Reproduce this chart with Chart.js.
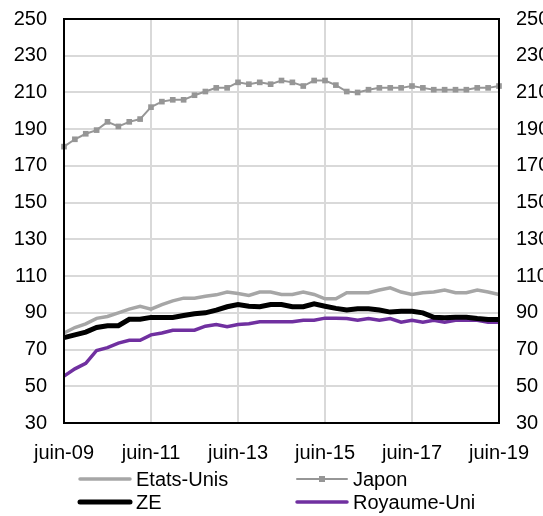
<!DOCTYPE html>
<html>
<head>
<meta charset="utf-8">
<script src="https://cdn.jsdelivr.net/npm/chart.js@4/dist/chart.umd.min.js"></script>
<style>
  html, body { margin: 0; padding: 0; overflow: hidden; background: #fff; }
  canvas { display: block; }
</style>
</head>
<body>
<canvas id="chart" width="562" height="516"></canvas>
<script>
// trimestres, juin-09 -> juin-19
let quarters = [
    "juin-09", "sept-09", "déc-09", "mars-10", "juin-10", "sept-10", "déc-10", "mars-11",
    "juin-11", "sept-11", "déc-11", "mars-12", "juin-12", "sept-12", "déc-12", "mars-13",
    "juin-13", "sept-13", "déc-13", "mars-14", "juin-14", "sept-14", "déc-14", "mars-15",
    "juin-15", "sept-15", "déc-15", "mars-16", "juin-16", "sept-16", "déc-16", "mars-17",
    "juin-17", "sept-17", "déc-17", "mars-18", "juin-18", "sept-18", "déc-18", "mars-19",
    "juin-19"
];

let etatsUnis = [79, 82, 84, 87, 88, 90, 92, 93.5, 92, 94.5, 96.5, 98, 98, 99, 99.8, 101.3,
    100.5, 99.5, 101.3, 101.3, 100, 100, 101.3, 100, 97.6, 97.6, 100.9, 100.9, 100.9, 102.4,
    103.6, 101.3, 100, 100.9, 101.3, 102.4, 100.9, 100.9, 102.4, 101.3, 100];

let japon = [180.5, 184.5, 187.5, 189.5, 194, 191.5, 194, 195.5, 202, 205, 206, 206, 208.5,
    210.5, 212.5, 212.5, 215.5, 214.5, 215.5, 214.5, 216.5, 215.5, 213.5, 216.5, 216.5, 214,
    210.5, 210, 211.5, 212.5, 212.5, 212.5, 213.5, 212.5, 211.5, 211.5, 211.5, 211.5, 212.5,
    212.5, 213.5];

let ze = [76.5, 78, 79.5, 82, 83, 83, 86.5, 86.5, 87.5, 87.5, 87.5, 88.5, 89.5, 90, 91.5,
    93.3, 94.5, 93.6, 93.3, 94.5, 94.5, 93.3, 93.3, 94.9, 93.6, 92.4, 91.5, 92.2, 92.2, 91.5,
    90.4, 90.9, 90.9, 90, 87.6, 87.3, 87.6, 87.6, 86.9, 86.4, 86.4];

let royaumeUni = [55.5, 59.5, 62.5, 69.5, 71, 73.5, 75, 75, 78, 79, 80.5, 80.5, 80.5, 82.7,
    83.6, 82.4, 83.6, 84, 85.1, 85.1, 85.1, 85.1, 86, 86, 87.1, 87.1, 86.9, 86, 86.9, 86,
    86.9, 84.9, 86, 84.9, 86, 84.9, 86, 86, 86, 84.9, 84.9];

let yMin = 30, yMax = 250, yStep = 20;

Chart.defaults.font.family = "'Liberation Sans', Arial, sans-serif";
Chart.defaults.font.size = 20;
Chart.defaults.color = "#000";

// legende dessinee a la main (2 colonnes alignees) + cadre noir
const frameAndLegend = {
    id: "frameAndLegend",
    afterDraw(chart) {
        const ctx = chart.ctx;
        const a = chart.chartArea;
        ctx.save();
        ctx.strokeStyle = "#000";
        ctx.lineWidth = 2;
        ctx.strokeRect(a.left, a.top, a.right - a.left, a.bottom - a.top);

        const slots = [[80, 479], [297, 479], [80, 502], [297, 502]];
        ctx.font = "20px 'Liberation Sans', Arial, sans-serif";
        ctx.textBaseline = "middle";
        ctx.fillStyle = "#000";
        chart.data.datasets.forEach((ds, i) => {
            const [x, y] = slots[i];
            ctx.strokeStyle = ds.borderColor;
            ctx.lineWidth = ds.borderWidth;
            ctx.lineCap = "round";
            ctx.beginPath();
            ctx.moveTo(x, y);
            ctx.lineTo(x + 50, y);
            ctx.stroke();
            if (ds.pointRadius > 0) {
                ctx.fillStyle = ds.pointBackgroundColor;
                ctx.fillRect(x + 22, y - 3, 6, 6);
                ctx.fillStyle = "#000";
            }
            ctx.fillText(ds.label, x + 56, y + 1);
        });
        ctx.restore();
    }
};

const fitAxis = s => {
    s.width = 53;
    s.paddingTop = 0;
    s.paddingBottom = 0;
};

new Chart(document.getElementById("chart"), {
    type: "line",
    data: {
        labels: quarters,
        datasets: [
            { label: "Etats-Unis", data: etatsUnis, borderColor: "#a6a6a6", borderWidth: 3.5,
              pointRadius: 0, order: 2 },
            { label: "Japon", data: japon, borderColor: "#969696", borderWidth: 2,
              pointRadius: 4, pointStyle: "rect", pointBackgroundColor: "#969696",
              pointBorderWidth: 0, order: 3 },
            { label: "ZE", data: ze, borderColor: "#000000", borderWidth: 5,
              pointRadius: 0, order: 0 },
            { label: "Royaume-Uni", data: royaumeUni, borderColor: "#7030a0", borderWidth: 3.5,
              pointRadius: 0, order: 1 }
        ]
    },
    options: {
        responsive: false,
        animation: false,
        layout: { padding: { left: 11, right: 10, top: 19, bottom: 33 } },
        plugins: { legend: { display: false }, tooltip: { enabled: false } },
        elements: { line: { tension: 0 } },
        scales: {
            x: {
                offset: false,
                grid: {
                    drawTicks: false,
                    lineWidth: 2,
                    color: c => (c.index % 8 === 0 ? "#d9d9d9" : "rgba(0,0,0,0)")
                },
                border: { color: "#000", width: 2 },
                ticks: {
                    autoSkip: false,
                    maxRotation: 0,
                    padding: 18,
                    callback: function (v, i) { return i % 8 === 0 ? quarters[i] : ""; }
                }
            },
            y: {
                position: "left",
                min: yMin, max: yMax,
                grid: { drawTicks: false, lineWidth: 2, color: "#d9d9d9" },
                border: { color: "#000", width: 2 },
                ticks: { stepSize: yStep, padding: 17 },
                afterFit: fitAxis
            },
            y2: {
                position: "right",
                min: yMin, max: yMax,
                grid: { display: false, drawTicks: false },
                border: { color: "#000", width: 2 },
                ticks: { stepSize: yStep, padding: 17 },
                afterFit: fitAxis
            }
        }
    },
    plugins: [frameAndLegend]
});
</script>
</body>
</html>
